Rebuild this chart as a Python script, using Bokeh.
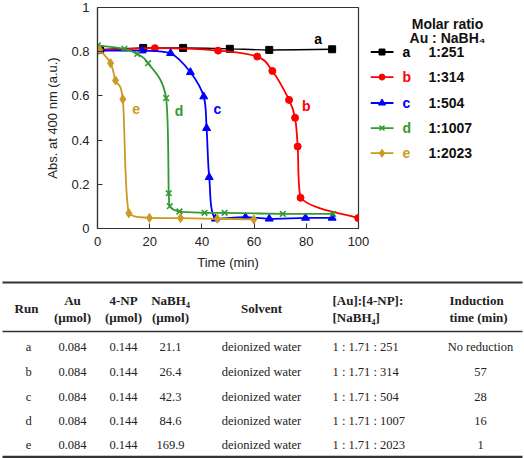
import numpy as np
from bokeh.plotting import figure
from bokeh.models import Range1d, ColumnDataSource, FixedTicker, CustomJSTickFormatter
from bokeh.layouts import column, row
from bokeh.embed import file_html
from bokeh.resources import INLINE
from bokeh.core.properties import value

# ---------------- data ----------------
series_names = ["a", "b", "c", "d", "e"]
ratios = ["1:251", "1:314", "1:504", "1:1007", "1:2023"]

time_a = [1, 17.5, 32.8, 50.7, 65.8, 89.9]
abs_a = [0.81, 0.817, 0.817, 0.813, 0.808, 0.811]
time_b = [0.1, 22, 46.2, 61.2, 67, 73.4, 75.7, 76.7, 77.8, 99.9]
abs_b = [0.805, 0.816, 0.805, 0.778, 0.713, 0.582, 0.501, 0.371, 0.139, 0.047]
time_c = [0, 17.1, 28, 35.6, 40.7, 41.8, 42.8, 45.2, 56.7, 65.8, 79.7, 89.9]
abs_c = [0.805, 0.805, 0.793, 0.707, 0.597, 0.454, 0.232, 0.044, 0.051, 0.044, 0.048, 0.048]
time_d = [0.1, 10.3, 15.2, 19.4, 26.3, 27.3, 27.7, 31.4, 41, 48.7, 71, 90.3]
abs_d = [0.828, 0.813, 0.790, 0.748, 0.59, 0.16, 0.101, 0.077, 0.071, 0.071, 0.066, 0.066]
time_e = [0.8, 5, 6.9, 9.7, 12, 19.9, 31.8, 45.9, 59.9]
abs_e = [0.809, 0.748, 0.67, 0.585, 0.069, 0.048, 0.047, 0.044, 0.041]

x_ticks = [0, 20, 40, 60, 80, 100]
y_ticks = [0, 0.2, 0.4, 0.6, 0.8, 1]

# table
run_ids = ["a", "b", "c", "d", "e"]
au_umol = ["0.084", "0.084", "0.084", "0.084", "0.084"]
np_umol = ["0.144", "0.144", "0.144", "0.144", "0.144"]
nabh4_umol = ["21.1", "26.4", "42.3", "84.6", "169.9"]
solvents = ["deionized water", "deionized water", "deionized water", "deionized water", "deionized water"]
ratio_text = ["1 : 1.71 : 251", "1 : 1.71 : 314", "1 : 1.71 : 504", "1 : 1.71 : 1007", "1 : 1.71 : 2023"]
induction = ["No reduction", "57", "28", "16", "1"]

# ---------------- styles ----------------
colors = ["#000000", "#ff0000", "#0000ff", "#339933", "#cc9922"]
markers = ["square", "circle", "triangle", "x", "diamond"]
msizes = [7, 7, 8, 8, 9]
SANS = value("Liberation Sans")
SERIF = value("Liberation Serif")

# label anchors in data units (time, absorbance)
label_pos = [(84.5, 0.856), (80, 0.555), (45.9, 0.542), (31.2, 0.53), (14.8, 0.542)]


def smooth(xs, ys):
    x = np.asarray(xs, float)
    y = np.asarray(ys, float)
    xp = np.concatenate([[x[0]], x, [x[-1]]])
    yp = np.concatenate([[y[0]], y, [y[-1]]])
    out = {k: [] for k in ["x0", "y0", "x1", "y1", "cx0", "cy0", "cx1", "cy1"]}
    for i in range(len(x) - 1):
        p0 = np.array([xp[i], yp[i]])
        p1 = np.array([x[i], y[i]])
        p2 = np.array([x[i + 1], y[i + 1]])
        p3 = np.array([xp[i + 3], yp[i + 3]])
        c1 = p1 + (p2 - p0) / 6.0
        c2 = p2 - (p3 - p1) / 6.0
        lo, hi = min(p1[1], p2[1]), max(p1[1], p2[1])
        for c in (c1, c2):
            c[0] = min(max(c[0], p1[0]), p2[0])
            c[1] = min(max(c[1], lo), hi)
        out["x0"].append(p1[0]); out["y0"].append(p1[1])
        out["x1"].append(p2[0]); out["y1"].append(p2[1])
        out["cx0"].append(c1[0]); out["cy0"].append(c1[1])
        out["cx1"].append(c2[0]); out["cy1"].append(c2[1])
    return out


# ---------------- main plot ----------------
PH = 273
p = figure(width=370, height=PH, x_range=Range1d(0, 100), y_range=Range1d(0, 1),
           output_backend="svg", toolbar_location=None,
           min_border_left=97, min_border_right=12, min_border_top=7, min_border_bottom=45)
p.grid.visible = False
p.outline_line_color = "#333333"
p.outline_line_width = 1.2
p.background_fill_color = "white"
p.border_fill_color = "white"

for ax in (p.xaxis[0], p.yaxis[0]):
    ax.axis_line_color = "#333333"
    ax.axis_line_width = 1.2
    ax.major_tick_in = 5
    ax.major_tick_out = 0
    ax.major_tick_line_color = "#333333"
    ax.minor_tick_line_color = None
    ax.major_label_text_font = "Liberation Sans"
    ax.major_label_text_font_size = "13px"
    ax.major_label_text_color = "#222222"
    ax.axis_label_text_font = "Liberation Sans"
    ax.axis_label_text_font_size = "13px"
    ax.axis_label_text_font_style = "normal"
    ax.axis_label_text_color = "#222222"
    ax.major_label_standoff = 8

p.xaxis.ticker = FixedTicker(ticks=x_ticks)
p.yaxis.ticker = FixedTicker(ticks=y_ticks)
p.yaxis.formatter = CustomJSTickFormatter(code="return String(Math.round(tick*10)/10);")
p.xaxis.axis_label = "Time (min)"
p.yaxis.axis_label = "Abs. at 400 nm (a.u.)"
p.xaxis.axis_label_standoff = 6
p.yaxis.axis_label_standoff = 8

all_t = [time_a, time_b, time_c, time_d, time_e]
all_a = [abs_a, abs_b, abs_c, abs_d, abs_e]
for i in range(5):
    src = ColumnDataSource(smooth(all_t[i], all_a[i]))
    p.bezier(x0="x0", y0="y0", x1="x1", y1="y1", cx0="cx0", cy0="cy0", cx1="cx1", cy1="cy1",
             source=src, line_color=colors[i], line_width=1.8 if i else 1.4)
    p.scatter(all_t[i], all_a[i], marker=markers[i], size=msizes[i],
              fill_color=colors[i], line_color=colors[i], line_width=1.6 if markers[i] == "x" else 1)

p.text(x=[lp[0] for lp in label_pos], y=[lp[1] for lp in label_pos], text=series_names,
       text_color=colors, text_font=SANS, text_font_size="14px", text_font_style="bold",
       text_align="center", text_baseline="middle")

# ---------------- legend panel ----------------
LW = 154
lg = figure(width=LW, height=PH, x_range=Range1d(0, LW), y_range=Range1d(PH, 0),
            output_backend="svg", toolbar_location=None, min_border=0)
lg.axis.visible = False
lg.grid.visible = False
lg.outline_line_color = None
entry_y = [55, 86, 118, 149, 180]
lg.text(x=[77, 77], y=[20, 38], text=["Molar ratio", "Au : NaBH\u2084"], text_font=SANS,
        text_font_size="14px", text_font_style="bold", text_color="#111111",
        text_align="center", text_baseline="middle")
for i in range(5):
    lg.line([0, 23], [entry_y[i], entry_y[i]], line_color=colors[i], line_width=1.8)
    lg.scatter([11.5], [entry_y[i]], marker=markers[i], size=msizes[i] - 1,
               fill_color=colors[i], line_color=colors[i], line_width=1.5 if markers[i] == "x" else 1)
lg.text(x=[32] * 5, y=entry_y, text=series_names, text_color=colors, text_font=SANS,
        text_font_size="14px", text_font_style="bold", text_align="left", text_baseline="middle")
lg.text(x=[58] * 5, y=entry_y, text=ratios, text_color="#111111", text_font=SANS,
        text_font_size="14px", text_font_style="bold", text_align="left", text_baseline="middle")

# ---------------- table ----------------
TW, TH = 524, 185
tb = figure(width=TW, height=TH, x_range=Range1d(0, TW), y_range=Range1d(TH, 0),
            output_backend="svg", toolbar_location=None, min_border=0)
tb.axis.visible = False
tb.grid.visible = False
tb.outline_line_color = None

tb.segment(x0=[2, 2, 2], y0=[9, 58, 183.5], x1=[522, 522, 522], y1=[9, 58, 183.5],
           line_color="#333333", line_width=[2, 1.5, 2.5])

row_y = [73, 98, 123, 147, 171]
h1, h2, hm = 27, 44, 35
col_x = {"run": 26, "au": 72, "np": 123, "nabh": 170, "solv": 261, "ratio": 332, "ind": 480}

hdr = dict(text_font=SERIF, text_font_size="13px", text_font_style="bold", text_color="#222222",
           text_baseline="middle")
tb.text(x=[col_x["run"], col_x["solv"]], y=[hm, hm], text=["Run", "Solvent"], text_align="center", **hdr)
tb.text(x=[col_x["au"], col_x["np"], col_x["nabh"]], y=[h1] * 3, text=["Au", "4-NP", "NaBH\u2084"],
        text_align="center", **hdr)
tb.text(x=[col_x["au"], col_x["np"], col_x["nabh"]], y=[h2] * 3, text=["(\u00b5mol)"] * 3,
        text_align="center", **hdr)
tb.text(x=[col_x["ratio"], col_x["ratio"]], y=[h1, h2], text=["[Au]:[4-NP]:", "[NaBH\u2084]"],
        text_align="left", **hdr)
tb.text(x=[449, 449], y=[h1, h2], text=["Induction", "time (min)"], text_align="left", **hdr)

cell = dict(text_font=SERIF, text_font_size="12.5px", text_color="#222222", text_baseline="middle")
tb.text(x=[28] * 5, y=row_y, text=run_ids, text_align="center", **cell)
tb.text(x=[col_x["au"]] * 5, y=row_y, text=au_umol, text_align="center", **cell)
tb.text(x=[col_x["np"]] * 5, y=row_y, text=np_umol, text_align="center", **cell)
tb.text(x=[col_x["nabh"]] * 5, y=row_y, text=nabh4_umol, text_align="center", **cell)
tb.text(x=[col_x["solv"]] * 5, y=row_y, text=solvents, text_align="center", **cell)
tb.text(x=[col_x["ratio"]] * 5, y=row_y, text=ratio_text, text_align="left", **cell)
tb.text(x=[col_x["ind"]] * 5, y=row_y, text=induction, text_align="center", **cell)

layout = column(row(p, lg), tb)
open("out.html", "w").write(file_html(layout, INLINE))
